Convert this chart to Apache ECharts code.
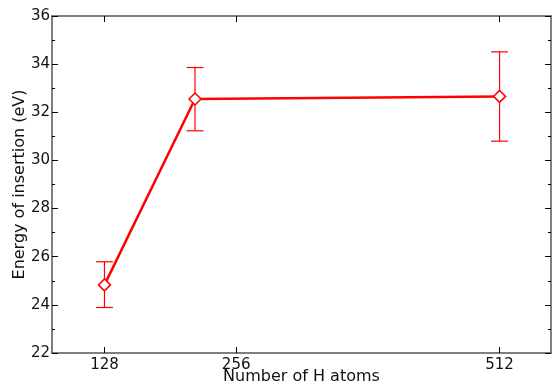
<!DOCTYPE html>
<html>
<head>
<meta charset="utf-8">
<script src="https://cdn.jsdelivr.net/npm/echarts@6.0.0/dist/echarts.min.js"></script>
<style>
html, body { margin: 0; padding: 0; background: #fff; }
#chart { width: 553px; height: 387px; }
</style>
</head>
<body>
<div id="chart"></div>
<script>
// data
var hAtoms = [128, 216, 512];
var energy = [24.83, 32.55, 32.66];
var errLow = [23.89, 31.23, 30.80];
var errHigh = [25.79, 33.86, 34.51];
var xTicks = [128, 256, 512];

var font = 'DejaVu Sans';
var frameColor = '#555';
var red = '#ff0000';

var linePoints = [];
var barPoints = [];
for (var i = 0; i < hAtoms.length; i++) {
	linePoints.push([hAtoms[i], energy[i]]);
	barPoints.push([hAtoms[i], errLow[i], errHigh[i]]);
}

// error bars: vertical line + caps
function renderErrorBar(params, api) {
	var x = api.value(0);
	var lo = api.coord([x, api.value(1)]);
	var hi = api.coord([x, api.value(2)]);
	var half = 8.5;
	var style = { stroke: red, lineWidth: 1.2 };
	return {
		type: 'group',
		children: [
			{ type: 'line', shape: { x1: lo[0], y1: lo[1], x2: hi[0], y2: hi[1] }, style: style },
			{ type: 'line', shape: { x1: hi[0] - half, y1: hi[1], x2: hi[0] + half, y2: hi[1] }, style: style },
			{ type: 'line', shape: { x1: lo[0] - half, y1: lo[1], x2: lo[0] + half, y2: lo[1] }, style: style }
		]
	};
}

var chart = echarts.init(document.getElementById('chart'));

var xBase = {
	type: 'value', min: 77, max: 562,
	axisLine: { show: true, onZero: false, lineStyle: { color: frameColor, width: 1.5 } },
	axisTick: { show: true, inside: true, length: 6, customValues: xTicks, lineStyle: { color: '#000' } },
	splitLine: { show: false }
};
var yBase = {
	type: 'value', min: 22, max: 36, interval: 2,
	axisLine: { show: true, lineStyle: { color: frameColor, width: 1.5 } },
	axisTick: { show: true, inside: true, length: 6, lineStyle: { color: '#000' } },
	minorTick: { show: true, splitNumber: 2, length: 3, lineStyle: { color: '#000' } },
	splitLine: { show: false },
	minorSplitLine: { show: false }
};

var option = {
	animation: false,
	textStyle: { fontFamily: font },
	grid: { left: 52, right: 2, top: 16, bottom: 34, containLabel: false, outerBoundsMode: 'none' },
	xAxis: [
		Object.assign({}, xBase, {
			position: 'bottom',
			name: 'Number of H atoms',
			nameLocation: 'middle',
			nameGap: 16,
			nameMoveOverlap: false,
			nameTextStyle: { fontFamily: font, fontSize: 16, color: '#111' },
			axisLabel: { show: true, customValues: xTicks, margin: 5, fontFamily: font, fontSize: 15, color: '#111' }
		}),
		Object.assign({}, xBase, {
			position: 'top',
			axisLabel: { show: false }
		})
	],
	yAxis: [
		Object.assign({}, yBase, {
			position: 'left',
			name: 'Energy of insertion (eV)',
			nameLocation: 'middle',
			nameGap: 24,
			nameMoveOverlap: false,
			nameTextStyle: { fontFamily: font, fontSize: 16, color: '#111' },
			axisLabel: { show: true, margin: 2, fontFamily: font, fontSize: 15, color: '#111' }
		}),
		Object.assign({}, yBase, {
			position: 'right',
			axisLabel: { show: false }
		})
	],
	series: [
		{
			type: 'custom',
			xAxisIndex: 0, yAxisIndex: 0,
			renderItem: renderErrorBar,
			data: barPoints,
			z: 1
		},
		{
			type: 'line',
			xAxisIndex: 0, yAxisIndex: 0,
			data: linePoints,
			symbol: 'diamond',
			symbolSize: 12,
			lineStyle: { color: red, width: 2.5 },
			itemStyle: { color: '#fff', borderColor: red, borderWidth: 1.5 },
			z: 3
		}
	]
};
chart.setOption(option);
</script>
</body>
</html>
